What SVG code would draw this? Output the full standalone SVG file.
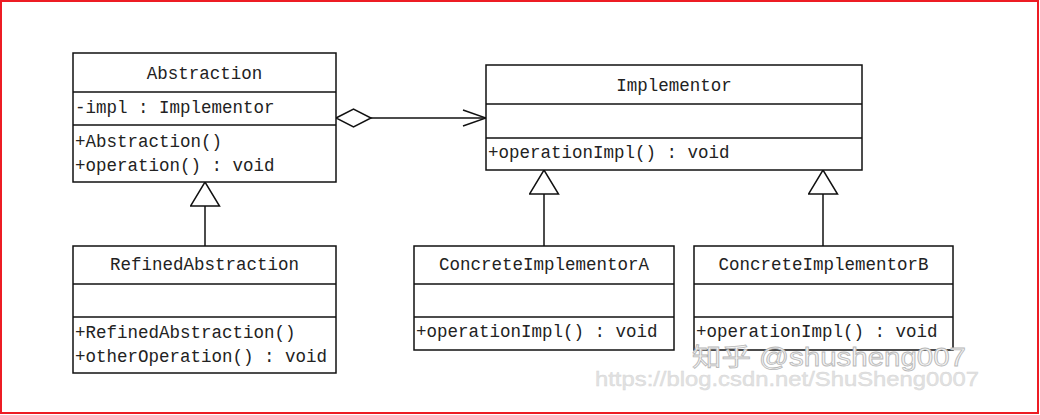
<svg xmlns="http://www.w3.org/2000/svg" width="1040" height="415" viewBox="0 0 1040 415">
<defs>
<style>
.box{fill:#fff;stroke:#111;stroke-width:1.5}
.div{stroke:#111;stroke-width:1.5}
.t{font-family:"Liberation Mono","DejaVu Sans Mono",monospace;font-size:19px;fill:#222}
.c{text-anchor:middle}
.edge{stroke:#111;stroke-width:1.5;fill:none}
</style>
<marker id="gen" markerUnits="userSpaceOnUse" markerWidth="26" markerHeight="32" refX="24" refY="14.5" orient="auto" viewBox="-1 -1 26 32">
<path d="M0,0 L24,14.5 L0,29 Z" fill="#fff" stroke="#111" stroke-width="1.5"/>
</marker>
<marker id="agg" markerUnits="userSpaceOnUse" markerWidth="38" markerHeight="22" refX="0" refY="9" orient="auto" viewBox="-1 -1 38 22">
<path d="M0,9 L17.5,0 L35,9 L17.5,18 Z" fill="#fff" stroke="#111" stroke-width="1.5"/>
</marker>
<marker id="open" markerUnits="userSpaceOnUse" markerWidth="26" markerHeight="20" refX="23" refY="8" orient="auto" viewBox="-1 -1 26 20">
<path d="M0,0 L23,8 L0,16" fill="none" stroke="#111" stroke-width="1.5"/>
</marker>
</defs>
<rect x="0" y="0" width="1040" height="415" fill="#fff"/>
<rect x="1" y="1" width="1037" height="412" fill="none" stroke="#ed1c24" stroke-width="2"/>

<g id="connectors">
<path class="edge" d="M205,246 L205,182" marker-end="url(#gen)"/>
<path class="edge" d="M544,246 L544,170" marker-end="url(#gen)"/>
<path class="edge" d="M823,246 L823,170" marker-end="url(#gen)"/>
<path class="edge" d="M336,118 L486,118" marker-start="url(#agg)" marker-end="url(#open)"/>
</g>

<g id="Abstraction">
<rect class="box" x="73" y="53" width="263" height="129"/>
<line class="div" x1="73" y1="92" x2="336" y2="92"/>
<line class="div" x1="73" y1="125" x2="336" y2="125"/>
<text class="t c" x="204.5" y="79" textLength="115.5" lengthAdjust="spacingAndGlyphs">Abstraction</text>
<text class="t" x="75" y="113" textLength="199.5" lengthAdjust="spacingAndGlyphs">-impl : Implementor</text>
<text class="t" x="75" y="147" textLength="147" lengthAdjust="spacingAndGlyphs">+Abstraction()</text>
<text class="t" x="75" y="171" textLength="199.5" lengthAdjust="spacingAndGlyphs">+operation() : void</text>
</g>

<g id="Implementor">
<rect class="box" x="486" y="65" width="376" height="105"/>
<line class="div" x1="486" y1="104" x2="862" y2="104"/>
<line class="div" x1="486" y1="138" x2="862" y2="138"/>
<text class="t c" x="674" y="91" textLength="115.5" lengthAdjust="spacingAndGlyphs">Implementor</text>
<text class="t" x="488" y="158" textLength="241.5" lengthAdjust="spacingAndGlyphs">+operationImpl() : void</text>
</g>

<g id="RefinedAbstraction">
<rect class="box" x="73" y="246" width="263" height="127"/>
<line class="div" x1="73" y1="284" x2="336" y2="284"/>
<line class="div" x1="73" y1="317" x2="336" y2="317"/>
<text class="t c" x="204.5" y="270" textLength="189" lengthAdjust="spacingAndGlyphs">RefinedAbstraction</text>
<text class="t" x="75" y="338" textLength="220.5" lengthAdjust="spacingAndGlyphs">+RefinedAbstraction()</text>
<text class="t" x="75" y="362" textLength="252" lengthAdjust="spacingAndGlyphs">+otherOperation() : void</text>
</g>

<g id="ConcreteImplementorA">
<rect class="box" x="414" y="246" width="260" height="104"/>
<line class="div" x1="414" y1="284" x2="674" y2="284"/>
<line class="div" x1="414" y1="317" x2="674" y2="317"/>
<text class="t c" x="544" y="270" textLength="210" lengthAdjust="spacingAndGlyphs">ConcreteImplementorA</text>
<text class="t" x="416" y="337" textLength="241.5" lengthAdjust="spacingAndGlyphs">+operationImpl() : void</text>
</g>

<g id="ConcreteImplementorB">
<rect class="box" x="694" y="246" width="259" height="104"/>
<line class="div" x1="694" y1="284" x2="953" y2="284"/>
<line class="div" x1="694" y1="317" x2="953" y2="317"/>
<text class="t c" x="823.5" y="270" textLength="210" lengthAdjust="spacingAndGlyphs">ConcreteImplementorB</text>
<text class="t" x="696" y="337" textLength="241.5" lengthAdjust="spacingAndGlyphs">+operationImpl() : void</text>
</g>

<g id="watermark">
<text x="692" y="366" font-family="'Liberation Sans','Noto Sans CJK SC',sans-serif" font-size="25" fill="#f4f4f4" stroke="#b8b8b8" stroke-width="0.8" textLength="274" lengthAdjust="spacingAndGlyphs">知乎 @shusheng007</text>
<text x="595" y="386" font-family="'Liberation Sans',sans-serif" font-size="21" fill="#e2e2e2" stroke="#d6d6d6" stroke-width="0.4" textLength="384" lengthAdjust="spacingAndGlyphs">https://blog.csdn.net/ShuSheng0007</text>
</g>
</svg>
